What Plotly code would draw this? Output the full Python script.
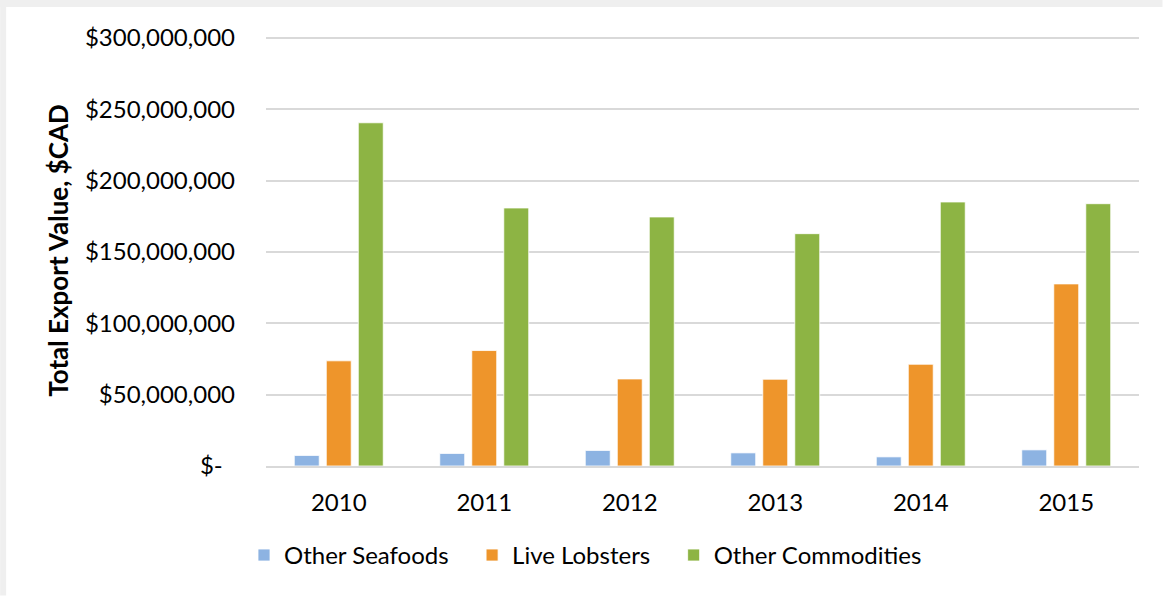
import plotly.graph_objects as go

years = ["2010", "2011", "2012", "2013", "2014", "2015"]
other_seafoods = [7.4e6, 8.8e6, 10.9e6, 9.2e6, 6.4e6, 11.3e6]
live_lobsters = [73.7e6, 80.9e6, 61.0e6, 60.8e6, 71.3e6, 127.6e6]
other_commodities = [240.5e6, 180.8e6, 174.5e6, 162.8e6, 185.0e6, 183.8e6]
y_tickvals = [0, 50e6, 100e6, 150e6, 200e6, 250e6, 300e6]
y_ticktext = ["$-\u00a0\u00a0", "$50,000,000", "$100,000,000", "$150,000,000",
              "$200,000,000", "$250,000,000", "$300,000,000"]
series_names = ["Other Seafoods", "Live Lobsters", "Other Commodities"]

W, H = 1163, 596
YMAX = 302e6
B = 466.5
scale = 428.5 / 300e6
T = B - YMAX * scale
L, R = 266, 1139.5
pw, ph = R - L, B - T

def px(x):
    return (x - L) / pw

def py(y):
    return (B - y) / ph

FONT = "Lato"
PAD = "\u00a0" * 3
fig = go.Figure()
for name, vals, col in [(series_names[0], other_seafoods, "#8DB3E2"),
                        (series_names[1], live_lobsters, "#EE952B"),
                        (series_names[2], other_commodities, "#8DB444")]:
    fig.add_trace(go.Bar(x=years, y=vals, name=name + PAD,
                         marker=dict(color=col, line=dict(color="white", width=0.8))))

fig.update_layout(
    width=W, height=H,
    margin=dict(l=L, r=W - R, t=T, b=H - B, pad=0),
    paper_bgcolor="white", plot_bgcolor="white",
    barmode="group", bargap=0.34, bargroupgap=0.22,
    font=dict(family=FONT, size=24, color="#000000"),
    showlegend=True,
    legend=dict(orientation="h", x=px(244), xanchor="left", y=py(556), yanchor="middle",
                font=dict(family=FONT, size=24, color="#000000"),
                itemwidth=30, traceorder="normal", bgcolor="rgba(0,0,0,0)"),
    shapes=[
        dict(type="rect", xref="paper", yref="paper", x0=px(0), x1=px(W), y0=py(0), y1=py(7),
             fillcolor="#EFEFEF", line=dict(width=0), layer="below"),
        dict(type="rect", xref="paper", yref="paper", x0=px(0), x1=px(6), y0=py(0), y1=py(H),
             fillcolor="#EFEFEF", line=dict(width=0), layer="below"),
    ],
)
fig.update_xaxes(showgrid=False, showline=True, linecolor="#D9D9D9", linewidth=1.5,
                 ticks="", tickfont=dict(size=24), ticklabelstandoff=14)
fig.update_yaxes(range=[0, YMAX], tickvals=y_tickvals, ticktext=y_ticktext,
                 showgrid=True, gridcolor="#D9D9D9", gridwidth=1.5, zeroline=False,
                 showline=False, ticks="", tickfont=dict(size=24), ticklabelstandoff=30,
                 title=dict(text="<b>Total Export Value, $CAD</b>", font=dict(size=26), standoff=8))

fig.write_html("out.html", config={"displayModeBar": False},
               post_script="document.body.style.margin='0';")
